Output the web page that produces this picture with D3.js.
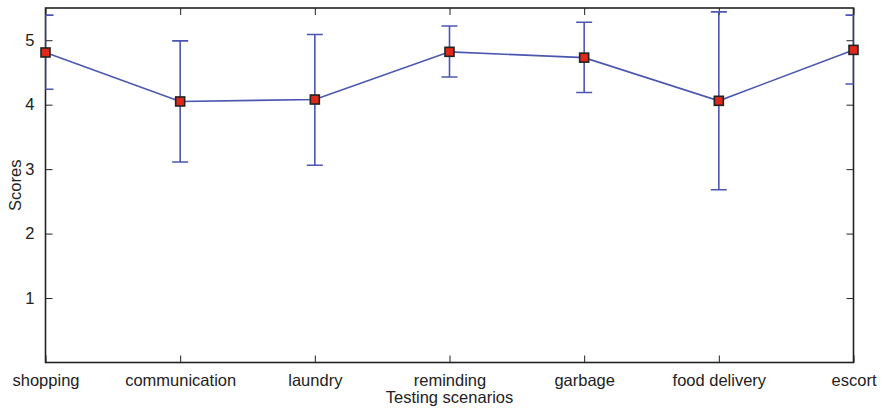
<!DOCTYPE html>
<html lang="en">
<head>
<meta charset="UTF-8" />
<title>Scores by testing scenario</title>
<script src="https://d3js.org/d3.v7.min.js"></script>
<style>
    * { margin: 0; padding: 0; }
    body { background: #fff; }
    svg { display: block; font-family: "Liberation Sans", Arial, sans-serif; }
</style>
</head>
<body>
<svg width="882" height="410"></svg>
<script>
    // Data
    var scenarios = ["shopping", "communication", "laundry", "reminding", "garbage", "food delivery", "escort"];
    var means = [4.81, 4.05, 4.08, 4.82, 4.73, 4.06, 4.85];
    var upper = [5.39, 4.99, 5.09, 5.22, 5.28, 5.44, 5.39];
    var lower = [4.24, 3.11, 3.06, 4.43, 4.19, 2.68, 4.32];
    var yTicks = [1, 2, 3, 4, 5];

    // plot box (note: "top" is reserved on window, so use other names)
    var plotLeft = 45.5, plotRight = 853.5, plotTop = 8, plotBottom = 362.5;
    var blue = "#4b56b0";
    var fontSize = "16.5px";

    var svg = d3.select("svg");

    var xScale = d3.scalePoint()
        .domain(scenarios)
        .range([plotLeft, plotRight])
        .padding(0);

    var yScale = d3.scaleLinear()
        .domain([0, 5.5])
        .range([plotBottom, plotTop]);

    // clip for error bars (caps are cut at the frame)
    svg.append("clipPath")
        .attr("id", "plotClip")
        .append("rect")
        .attr("x", plotLeft)
        .attr("y", plotTop)
        .attr("width", plotRight - plotLeft)
        .attr("height", plotBottom - plotTop);

    // Axes, ticks drawn inward on all four sides
    var tickLen = 7;
    svg.append("g")
        .attr("transform", "translate(0," + plotBottom + ")")
        .call(d3.axisBottom(xScale).tickSizeInner(-tickLen).tickSizeOuter(0).tickPadding(tickLen + 5))
        .call(function(g) { g.select(".domain").remove(); })
        .selectAll("text")
        .attr("font-size", fontSize)
        .attr("fill", "#222")
        .attr("font-family", "Liberation Sans, Arial, sans-serif");

    svg.append("g")
        .attr("transform", "translate(0," + plotTop + ")")
        .call(d3.axisTop(xScale).tickSizeInner(-tickLen).tickSizeOuter(0).tickFormat(""))
        .call(function(g) { g.select(".domain").remove(); });

    svg.append("g")
        .attr("transform", "translate(" + plotLeft + ",0)")
        .call(d3.axisLeft(yScale).tickValues(yTicks).tickFormat(d3.format("d"))
            .tickSizeInner(-tickLen).tickSizeOuter(0).tickPadding(tickLen + 4))
        .call(function(g) { g.select(".domain").remove(); })
        .selectAll("text")
        .attr("font-size", fontSize)
        .attr("fill", "#222")
        .attr("font-family", "Liberation Sans, Arial, sans-serif");

    svg.append("g")
        .attr("transform", "translate(" + plotRight + ",0)")
        .call(d3.axisRight(yScale).tickValues(yTicks).tickSizeInner(-tickLen).tickSizeOuter(0).tickFormat(""))
        .call(function(g) { g.select(".domain").remove(); });

    svg.selectAll(".tick line").attr("stroke", "#222");

    // Frame
    svg.append("rect")
        .attr("x", plotLeft)
        .attr("y", plotTop)
        .attr("width", plotRight - plotLeft)
        .attr("height", plotBottom - plotTop)
        .attr("fill", "none")
        .attr("stroke", "#222")
        .attr("stroke-width", 1.6);

    var points = scenarios.map(function(s, i) {
        return { name: s, mean: means[i], hi: upper[i], lo: lower[i] };
    });

    // Error bars
    var bars = svg.append("g").attr("clip-path", "url(#plotClip)");
    var cap = 8;
    bars.selectAll(".whisker")
        .data(points)
        .enter()
        .append("line")
        .attr("x1", function(d) { return xScale(d.name); })
        .attr("x2", function(d) { return xScale(d.name); })
        .attr("y1", function(d) { return yScale(d.hi); })
        .attr("y2", function(d) { return yScale(d.lo); })
        .attr("stroke", blue)
        .attr("stroke-width", 1.6);

    ["hi", "lo"].forEach(function(k) {
        bars.selectAll(".cap-" + k)
            .data(points)
            .enter()
            .append("line")
            .attr("x1", function(d) { return xScale(d.name) - cap; })
            .attr("x2", function(d) { return xScale(d.name) + cap; })
            .attr("y1", function(d) { return yScale(d[k]); })
            .attr("y2", function(d) { return yScale(d[k]); })
            .attr("stroke", blue)
            .attr("stroke-width", 1.6);
    });

    // Mean line
    var line = d3.line()
        .x(function(d) { return xScale(d.name); })
        .y(function(d) { return yScale(d.mean); });

    svg.append("path")
        .datum(points)
        .attr("d", line)
        .attr("fill", "none")
        .attr("stroke", blue)
        .attr("stroke-width", 1.6);

    // Square markers
    var m = 9;
    svg.selectAll(".marker")
        .data(points)
        .enter()
        .append("rect")
        .attr("x", function(d) { return xScale(d.name) - m / 2; })
        .attr("y", function(d) { return yScale(d.mean) - m / 2; })
        .attr("width", m)
        .attr("height", m)
        .attr("fill", "#e0281a")
        .attr("stroke", "#222")
        .attr("stroke-width", 1.6);

    // Axis titles
    svg.append("text")
        .attr("x", (plotLeft + plotRight) / 2)
        .attr("y", 403)
        .attr("text-anchor", "middle")
        .attr("font-size", fontSize)
        .attr("fill", "#222")
        .text("Testing scenarios");

    svg.append("text")
        .attr("transform", "rotate(-90)")
        .attr("x", -(plotTop + plotBottom) / 2)
        .attr("y", 21)
        .attr("text-anchor", "middle")
        .attr("font-size", fontSize)
        .attr("fill", "#222")
        .text("Scores");
</script>
</body>
</html>
